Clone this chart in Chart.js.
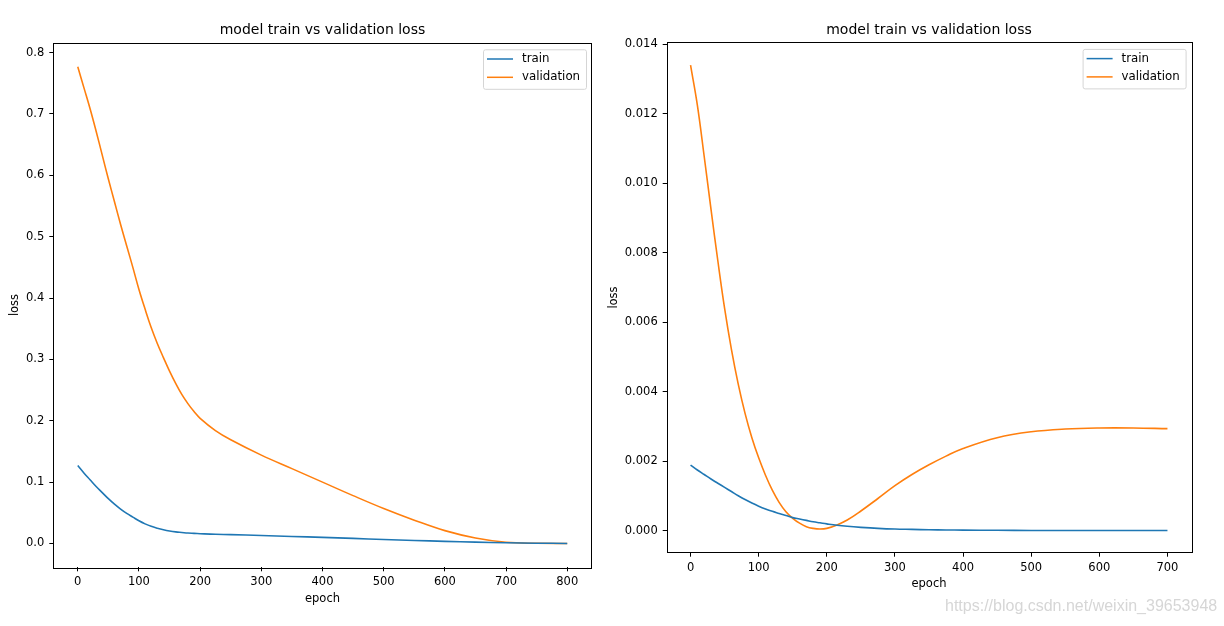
<!DOCTYPE html>
<html>
<head>
<meta charset="utf-8">
<script src="https://cdn.jsdelivr.net/npm/chart.js@4.4.0/dist/chart.umd.min.js"></script>
<style>
  body { margin: 0; background: #fff; width: 1224px; height: 626px; overflow: hidden; position: relative; }
  #left { position: absolute; left: 0; top: 0; }
  #right { position: absolute; left: 600px; top: 0; }
  #mark { position: absolute; left: 945px; top: 597px; font: 16px 'Liberation Sans', sans-serif; color: #d6d6d6; white-space: nowrap; }
</style>
</head>
<body>
<canvas id="left" width="612" height="626"></canvas>
<canvas id="right" width="624" height="626"></canvas>
<div id="mark">https://blog.csdn.net/weixin_39653948</div>
<script>
// left subplot (800 epochs)
var leftEpochs = [0, 10, 20, 30, 40, 50, 60, 70, 80, 90, 100, 110, 120, 130, 140, 150, 160, 170, 180, 190, 200, 225, 250, 300, 350, 400, 450, 500, 550, 600, 650, 700, 750, 800];
var leftTrain = [0.127, 0.115, 0.104, 0.093, 0.083, 0.073, 0.064, 0.056, 0.049, 0.043, 0.037, 0.032, 0.028, 0.025, 0.0225, 0.0205, 0.019, 0.018, 0.017, 0.0165, 0.016, 0.015, 0.0145, 0.013, 0.0115, 0.010, 0.0083, 0.0066, 0.005, 0.0035, 0.0022, 0.0012, 0.0005, 0.0001];
var leftValidation = [0.777, 0.743, 0.709, 0.672, 0.633, 0.594, 0.557, 0.520, 0.485, 0.450, 0.414, 0.382, 0.352, 0.326, 0.303, 0.281, 0.261, 0.243, 0.228, 0.215, 0.204, 0.184, 0.169, 0.144, 0.122, 0.100, 0.078, 0.057, 0.038, 0.021, 0.009, 0.002, 0.0003, 0.0];
var leftTicksX = [0, 100, 200, 300, 400, 500, 600, 700, 800];
var leftTicksY = [0, 0.1, 0.2, 0.3, 0.4, 0.5, 0.6, 0.7, 0.8];

// right subplot (700 epochs)
var rightEpochs = [0, 10, 20, 30, 40, 50, 60, 70, 80, 90, 100, 110, 120, 130, 140, 150, 160, 170, 180, 190, 200, 215, 230, 250, 275, 300, 325, 350, 375, 400, 450, 500, 550, 600, 650, 700];
var rightTrain = [0.00189, 0.00175, 0.00162, 0.00149, 0.00137, 0.00125, 0.00113, 0.00101, 0.0009, 0.0008, 0.00071, 0.00063, 0.00056, 0.0005, 0.00044, 0.00038, 0.00034, 0.0003, 0.00026, 0.00023, 0.0002, 0.00016, 0.00013, 0.0001, 0.00007, 0.00005, 0.00004, 0.00003, 0.000025, 0.00002, 0.000015, 0.00001, 0.00001, 0.00001, 0.00001, 0.00001];
var rightValidation = [0.0134, 0.01225, 0.01078, 0.00926, 0.00778, 0.0064, 0.00522, 0.00422, 0.00338, 0.00268, 0.0021, 0.0016, 0.00117, 0.00082, 0.00055, 0.00036, 0.00022, 0.00012, 0.00007, 0.00005, 0.00007, 0.00017, 0.00031, 0.00057, 0.00093, 0.0013, 0.00162, 0.0019, 0.00215, 0.00237, 0.00268, 0.00285, 0.00293, 0.00296, 0.00296, 0.00294];
var rightTicksX = [0, 100, 200, 300, 400, 500, 600, 700];
var rightTicksY = [0, 0.002, 0.004, 0.006, 0.008, 0.010, 0.012, 0.014];

var seriesNames = ['train', 'validation'];
var seriesColors = ['#1f77b4', '#ff7f0e'];
var titleText = 'model train vs validation loss';
var fontName = "'DejaVu Sans', sans-serif";

function toPoints(xs, ys) {
    return xs.map(function(x, i) { return { x: x, y: ys[i] }; });
}

// black box round the plot area and a matplotlib style legend inside it
var boxPlugin = {
    id: 'box',
    afterDraw: function(chart) {
        var a = chart.chartArea, ctx = chart.ctx;
        ctx.save();
        ctx.strokeStyle = '#000';
        ctx.lineWidth = 1;
        ctx.strokeRect(Math.round(a.left) + 0.5, Math.round(a.top) + 0.5, Math.round(a.right - a.left), Math.round(a.bottom - a.top));

        var w = 103, h = 39.5;
        var x = a.right - 5.7 - w, y = a.top + 6.6;
        ctx.beginPath();
        ctx.roundRect(x + 0.5, y + 0.5, w, h, 2);
        ctx.fillStyle = 'rgba(255,255,255,0.8)';
        ctx.fill();
        ctx.strokeStyle = '#d5d5d5';
        ctx.stroke();
        ctx.font = '11.8px ' + fontName;
        ctx.textBaseline = 'middle';
        chart.data.datasets.forEach(function(ds, i) {
            var ly = y + 9.7 + i * 18.3;
            ctx.strokeStyle = ds.borderColor;
            ctx.lineWidth = 1.5;
            ctx.beginPath();
            ctx.moveTo(x + 4, ly);
            ctx.lineTo(x + 30, ly);
            ctx.stroke();
            ctx.fillStyle = '#000';
            ctx.fillText(ds.label, x + 39, ly);
        });
        ctx.restore();
    }
};

function makeChart(id, cfg) {
    var datasets = [cfg.train, cfg.validation].map(function(vals, i) {
        return {
            label: seriesNames[i],
            data: toPoints(cfg.epochs, vals),
            borderColor: seriesColors[i],
            backgroundColor: seriesColors[i],
            borderWidth: 1.6,
            pointRadius: 0,
            fill: false,
            tension: 0.4
        };
    });
    var axisFont = { family: fontName, size: 11.5 };
    return new Chart(document.getElementById(id), {
        type: 'line',
        data: { datasets: datasets },
        plugins: [boxPlugin],
        options: {
            responsive: false,
            animation: false,
            layout: { padding: { left: 0, right: cfg.padRight, top: 0, bottom: 0 } },
            plugins: {
                legend: { display: false },
                tooltip: { enabled: false },
                title: {
                    display: true,
                    text: titleText,
                    fullSize: false,
                    color: '#000',
                    font: { family: fontName, size: 14, weight: 'normal', lineHeight: 1.2 },
                    padding: { top: cfg.titleTop, bottom: cfg.titleBottom }
                }
            },
            scales: {
                x: {
                    type: 'linear',
                    min: cfg.xMin,
                    max: cfg.xMax,
                    afterBuildTicks: function(s) { s.ticks = cfg.ticksX.map(function(v) { return { value: v }; }); },
                    afterFit: function(s) { s.height = cfg.xHeight; },
                    grid: { display: true, drawOnChartArea: false, drawTicks: true, tickLength: 4, tickColor: '#000' },
                    border: { display: false },
                    ticks: { color: '#000', font: axisFont, padding: 4, maxRotation: 0, callback: function(v) { return String(v); } },
                    title: { display: true, text: 'epoch', color: '#000', font: axisFont, padding: { top: 0, bottom: cfg.epochPad } }
                },
                y: {
                    type: 'linear',
                    min: cfg.yMin,
                    max: cfg.yMax,
                    afterBuildTicks: function(s) { s.ticks = cfg.ticksY.map(function(v) { return { value: v }; }); },
                    afterFit: function(s) { s.width = cfg.yWidth; },
                    grid: { display: true, drawOnChartArea: false, drawTicks: true, tickLength: 4, tickColor: '#000' },
                    border: { display: false },
                    ticks: { color: '#000', font: axisFont, padding: 5, callback: function(v) { return v.toFixed(cfg.decimals); } },
                    title: { display: true, text: 'loss', color: '#000', font: axisFont, padding: { top: cfg.lossPad, bottom: 0 } }
                }
            }
        }
    });
}

makeChart('left', {
    epochs: leftEpochs, train: leftTrain, validation: leftValidation,
    ticksX: leftTicksX, ticksY: leftTicksY, decimals: 1,
    xMin: -40, xMax: 840, yMin: -0.0388, yMax: 0.8162,
    padRight: 20.3, yWidth: 53.3, xHeight: 58.7,
    titleTop: 22.4, titleBottom: 3.5, epochPad: 20.3, lossPad: 7.9
});

makeChart('right', {
    epochs: rightEpochs, train: rightTrain, validation: rightValidation,
    ticksX: rightTicksX, ticksY: rightTicksY, decimals: 3,
    xMin: -35, xMax: 735, yMin: -0.00063, yMax: 0.01406,
    padRight: 32.7, yWidth: 66.7, xHeight: 73.3,
    titleTop: 22, titleBottom: 3.5, epochPad: 35.1, lossPad: 7.1
});
</script>
</body>
</html>
